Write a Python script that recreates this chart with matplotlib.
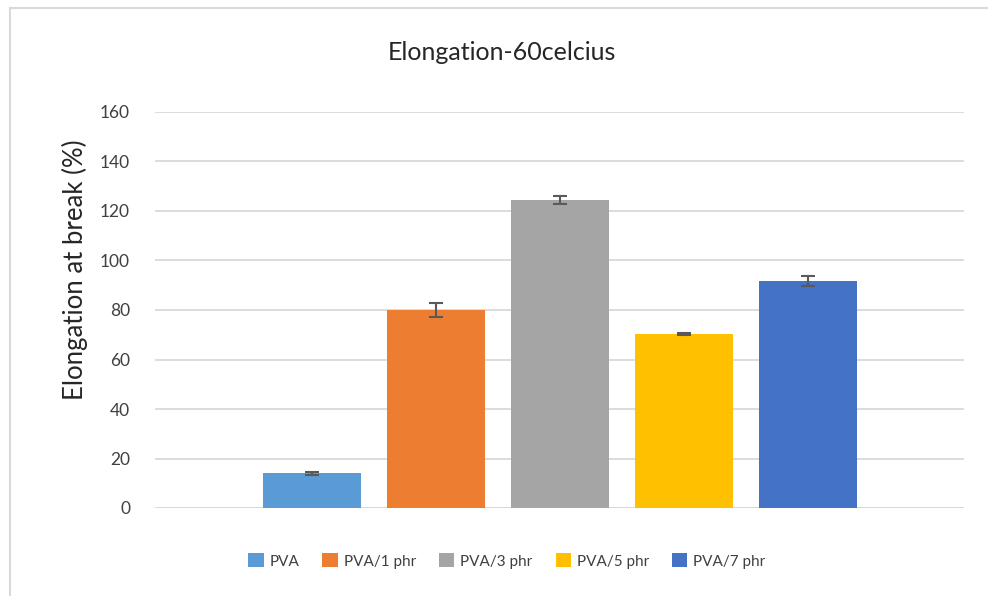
import matplotlib.pyplot as plt
from matplotlib.patches import Patch
from matplotlib.lines import Line2D

plt.rcParams['font.family'] = ['Lato', 'DejaVu Sans']

series = ["PVA", "PVA/1 phr", "PVA/3 phr", "PVA/5 phr", "PVA/7 phr"]
values = [14.1, 80.0, 124.4, 70.3, 91.7]
errors = [0.6, 2.7, 1.6, 0.5, 1.9]
colors = ["#5b9bd5", "#ed7d31", "#a5a5a5", "#ffc000", "#4472c4"]
yticks = [0, 20, 40, 60, 80, 100, 120, 140, 160]

fig = plt.figure(figsize=(9.88, 5.96), dpi=100)
ax = fig.add_axes([155 / 988, 1 - 508 / 596, 809 / 988, 396 / 596])

for i, (name, v, e, c) in enumerate(zip(series, values, errors, colors)):
    ax.bar(i, v, width=0.79, color=c, label=name, zorder=3)
    ax.errorbar(i, v, yerr=e, color="#595959", capsize=5, elinewidth=1.5,
                capthick=1.5, zorder=4)

ax.set_xlim(-1.266, 5.258)
ax.set_ylim(0, 160)
ax.set_yticks(yticks)
ax.set_xticks([])
ax.grid(axis="y", color="#d9d9d9", linewidth=1.3, zorder=0)
for s in ax.spines.values():
    s.set_visible(False)
ax.axhline(0, color="#d9d9d9", linewidth=1.3, zorder=2)
ax.tick_params(axis="y", length=0, labelsize=12.5, labelcolor="#404040", pad=18)

fig.text(75 / 988, 1 - 270 / 596, "Elongation at break (%)", rotation=90,
         ha="center", va="center", fontsize=18.5, color="#262626")
fig.text(502 / 988, 1 - 53 / 596, "Elongation-60celcius", ha="center",
         va="center", fontsize=18, color="#262626")

handles = [Patch(facecolor=c, label=n) for n, c in zip(series, colors)]
fig.legend(handles=handles, loc="center", ncol=5, frameon=False,
           bbox_to_anchor=(507 / 988, 1 - 561 / 596), fontsize=11,
           handlelength=1.0, handleheight=1.0, handletextpad=0.4,
           columnspacing=1.5, labelcolor="#404040")

# chart area border
fig.add_artist(Line2D([10 / 988, 10 / 988], [0, 1 - 8 / 596],
                      transform=fig.transFigure, color="#d9d9d9", lw=1.5))
fig.add_artist(Line2D([10 / 988, 1], [1 - 8 / 596, 1 - 8 / 596],
                      transform=fig.transFigure, color="#d9d9d9", lw=1.5))

fig.savefig("out.png", dpi=100)
